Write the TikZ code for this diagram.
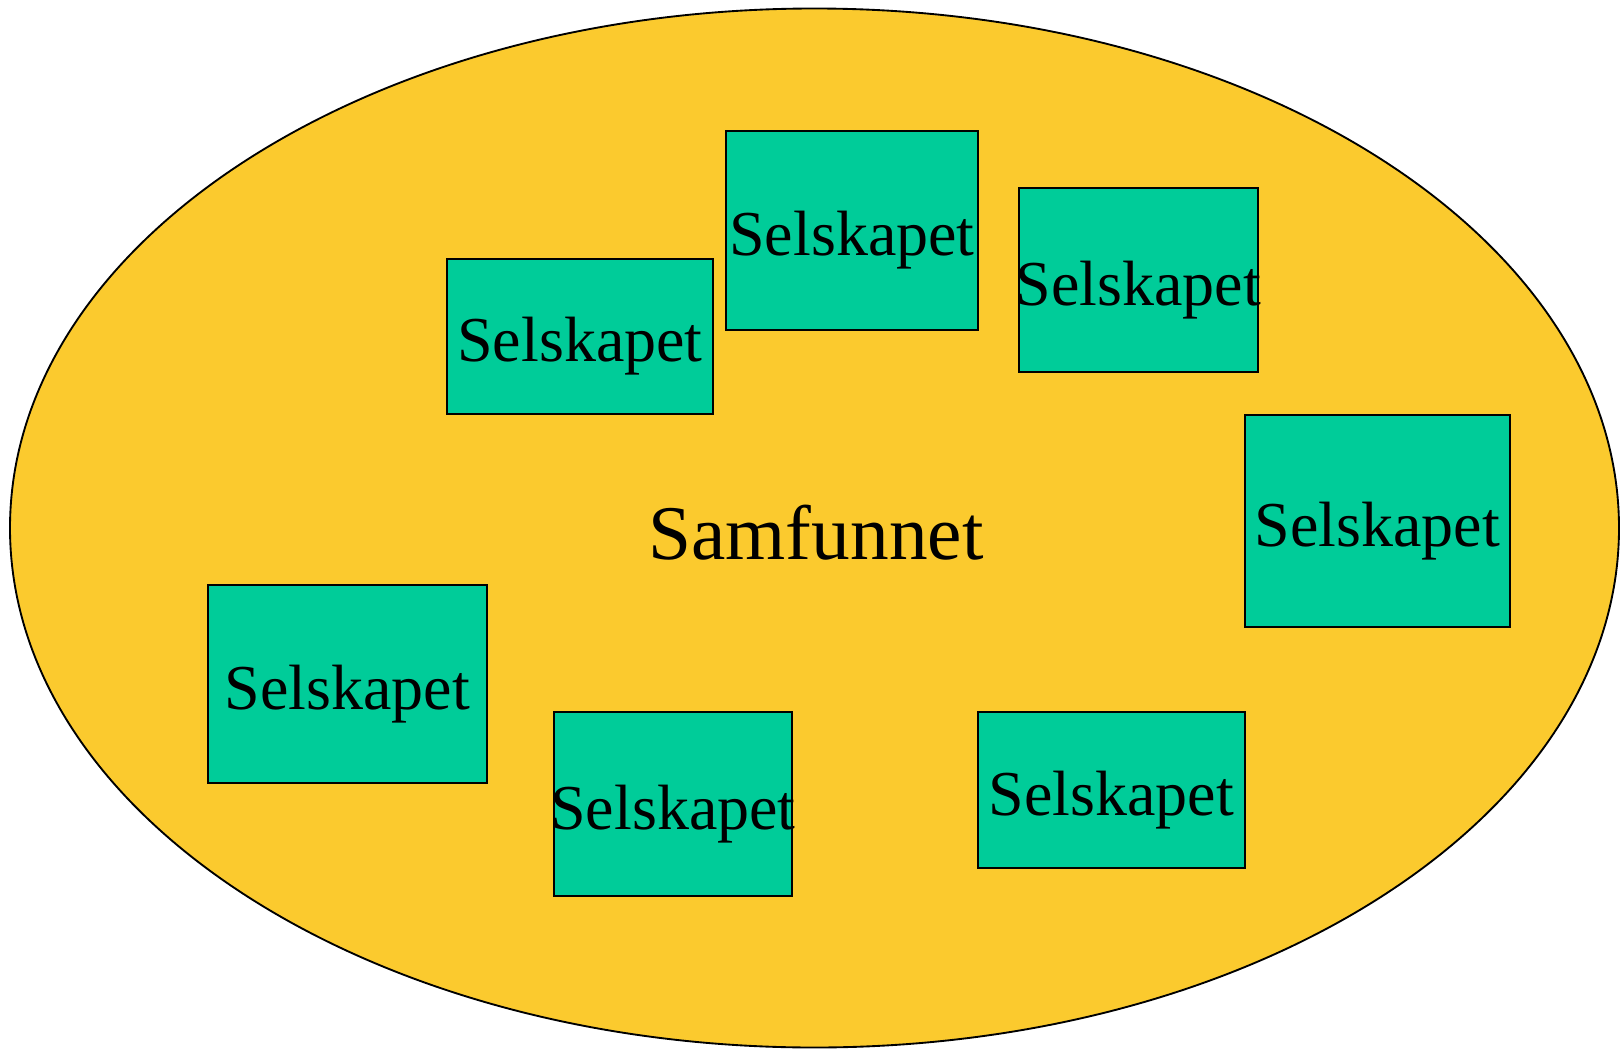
\documentclass[tikz,border=0pt]{standalone}
\usepackage{fontspec}
\setmainfont{Liberation Serif}
\definecolor{samyellow}{RGB}{251,202,46}
\definecolor{selgreen}{RGB}{0,204,153}
\newcommand{\selt}{\makebox[0pt]{Selskapet}}
\begin{document}
\begin{tikzpicture}[x=0.75pt,y=-0.75pt,
  selbox/.style={draw=black,line width=1.8pt,fill=selgreen,inner sep=0pt,
    font=\fontsize{48}{48}\selectfont,text height=40pt,text depth=1.8pt},
  samfill/.style={draw=black,line width=1.4pt,fill=samyellow}]
\useasboundingbox (0,0) rectangle (1620,1049);
\fill[white] (0,0) rectangle (1620,1049);
\draw[samfill] (814.5,528) ellipse [x radius=804.5*0.75pt, y radius=519.5*0.75pt];
\node[anchor=base,font=\fontsize{58}{58}\selectfont] (sam) at (816,559) {Samfunnet};
\node[selbox,minimum width=266*0.75pt,minimum height=155*0.75pt] (s1) at (580,336.5) {\selt};
\node[selbox,minimum width=252*0.75pt,minimum height=199*0.75pt] (s2) at (852,230.5) {\selt};
\node[selbox,minimum width=239*0.75pt,minimum height=184*0.75pt] (s3) at (1138.5,280) {\selt};
\node[selbox,minimum width=265*0.75pt,minimum height=212*0.75pt] (s4) at (1377.5,521) {\selt};
\node[selbox,minimum width=279*0.75pt,minimum height=198*0.75pt] (s5) at (347.5,684) {\selt};
\node[selbox,minimum width=238*0.75pt,minimum height=184*0.75pt] (s6) at (673,804) {\selt};
\node[selbox,minimum width=267*0.75pt,minimum height=156*0.75pt] (s7) at (1111.5,790) {\selt};
\end{tikzpicture}
\end{document}
